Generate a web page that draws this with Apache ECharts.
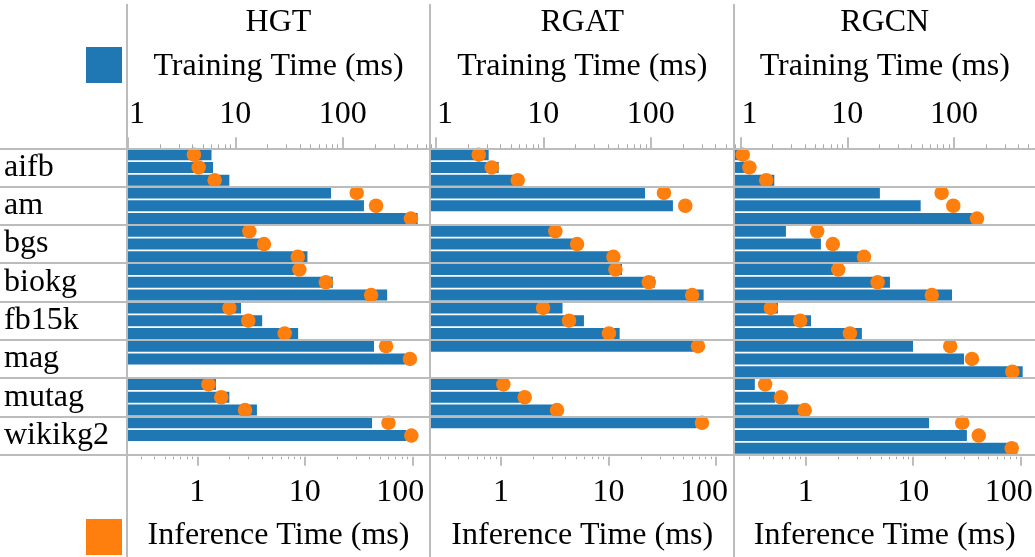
<!DOCTYPE html>
<html><head><meta charset="utf-8">
<script src="https://cdn.jsdelivr.net/npm/echarts@6/dist/echarts.min.js"></script>
<style>html,body{margin:0;padding:0;background:#fff}#c{width:1035px;height:557px}</style>
</head><body><div id="c"></div>
<script>
// ---------------- data ----------------
const categories = ['aifb','am','bgs','biokg','fb15k','mag','mutag','wikikg2'];
const models = ['HGT','RGAT','RGCN'];
const majorTicks = [1, 10, 100];
const trainName = 'Training Time (ms)';
const inferName = 'Inference Time (ms)';
// three runs per dataset, null = no measurement
const hgtTrain  = [[6.0,6.2,8.8],[78,158,500],[12.5,18,47],[40,81,260],[11.3,17.8,38.5],[196,385,null],[6.6,8.8,15.9],[188,390,null]];
const hgtInfer  = [[0.93,1.03,1.45],[30.4,46,97],[3.05,4.17,8.6],[8.9,15.7,41.4],[1.99,2.98,6.5],[57,95,null],[1.27,1.67,2.78],[60,98,null]];
const rgatTrain = [[3.1,3.84,5.45],[88.5,161,null],[12.4,19.7,48],[54,109,311],[15.1,23.9,51.4],[265,null,null],[3.9,6.1,12.8],[268,null,null]];
const rgatInfer = [[0.62,0.82,1.43],[32.8,51.8,null],[3.2,5.1,11.1],[11.6,23.7,60],[2.46,4.29,10.1],[68,null,null],[1.05,1.66,3.32],[74,null,null]];
const rgcnTrain = [[1.12,1.34,2.07],[20.2,48.7,148],[2.66,5.66,13.1],[7.4,25.1,95.8],[2.24,4.57,13.7],[41.3,124,440],[1.36,2.1,3.6],[58.3,132,392]];
const rgcnInfer = [[0.26,0.30,0.43],[18.4,23.6,39.2],[1.28,1.79,3.49],[2.01,4.67,14.9],[0.475,0.89,2.58],[22.1,35.2,83.6],[0.42,0.59,0.98],[28.6,40.7,82.5]];
const trainDomains = [[1.0,638],[0.9,590],[0.877,574]];
const inferDomains = [[0.2266,143],[0.223,145.5],[0.218,135.8]];

// ---------------- layout / style ----------------
const FONT = "'Liberation Serif','Times New Roman',serif";
const BLUE = '#1f77b4', ORANGE = '#ff7f0e', GRAY = '#bcbcbc', TICK = '#a8a8a8';
const GRID_TOP = 148.3, GRID_H = 306.4;
const panelLeft = [128, 431, 734.5], panelWidth = [301, 302.5, 300.5];
const BAR_H = 11;
const trainSets = [hgtTrain, rgatTrain, rgcnTrain];
const inferSets = [hgtInfer, rgatInfer, rgcnInfer];

function minorValues(d) {
  const out = [];
  for (let e = Math.floor(Math.log10(d[0])); e <= Math.ceil(Math.log10(d[1])); e++)
    for (let k = 2; k <= 9; k++) {
      const v = +(k * Math.pow(10, e)).toPrecision(6);
      if (v >= d[0] && v <= d[1]) out.push(v);
    }
  return out;
}
const slots = [];
categories.forEach(c => { for (let k = 0; k < 3; k++) slots.push(c + '-' + k); });

function toPoints(rows) {
  const pts = [];
  rows.forEach((r, ci) => r.forEach((v, k) => { if (v != null) pts.push([v, ci * 3 + k]); }));
  return pts;
}
const txt = { fontFamily: FONT, fontSize: 32, color: '#000' };
const hiddenLine = { show: true, lineStyle: { color: 'rgba(0,0,0,0)', width: 0 } };

const grids = [], xAxes = [], yAxes = [], series = [];
models.forEach((m, i) => {
  grids.push({ left: panelLeft[i], width: panelWidth[i], top: GRID_TOP, height: GRID_H, outerBoundsMode: 'none', containLabel: false });
  yAxes.push({ type: 'category', gridIndex: i, data: slots, inverse: true, show: false });
  const td = trainDomains[i], idd = inferDomains[i];
  xAxes.push({
    type: 'log', gridIndex: i, position: 'top', min: td[0], max: td[1], offset: 0,
    axisLine: hiddenLine, splitLine: { show: false },
    axisTick: { show: true, customValues: majorTicks, length: 11, lineStyle: { color: TICK, width: 1.5 } },
    axisLabel: Object.assign({ customValues: majorTicks, margin: 18,
      formatter: v => v === majorTicks[0] ? '{f|' + v + '}' : String(v),
      rich: { f: Object.assign({ padding: [0, 0, 0, 18] }, txt) } }, txt),
    name: trainName, nameLocation: 'middle', nameGap: 66, nameTextStyle: txt
  });
  xAxes.push({
    type: 'log', gridIndex: i, position: 'top', min: td[0], max: td[1], offset: 0,
    axisLine: hiddenLine, splitLine: { show: false }, axisLabel: { show: false },
    axisTick: { show: true, customValues: minorValues(td), length: 4, lineStyle: { color: TICK, width: 1 } },
    name: m, nameLocation: 'middle', nameGap: 110, nameTextStyle: txt
  });
  xAxes.push({
    type: 'log', gridIndex: i, position: 'bottom', min: idd[0], max: idd[1], offset: 2,
    axisLine: hiddenLine, splitLine: { show: false },
    axisTick: { show: true, customValues: majorTicks, length: 9, lineStyle: { color: TICK, width: 1.5 } },
    axisLabel: Object.assign({ customValues: majorTicks, margin: 20,
      formatter: v => v === majorTicks[majorTicks.length - 1] ? '{l|' + v + '}' : String(v),
      rich: { l: Object.assign({ padding: [0, 24, 0, 0] }, txt) } }, txt),
    name: inferName, nameLocation: 'middle', nameGap: 63, nameTextStyle: txt
  });
  xAxes.push({
    type: 'log', gridIndex: i, position: 'bottom', min: idd[0], max: idd[1], offset: 2,
    axisLine: hiddenLine, splitLine: { show: false }, axisLabel: { show: false },
    axisTick: { show: true, customValues: minorValues(idd), length: 2.5, lineStyle: { color: TICK, width: 1 } }
  });
  series.push({
    type: 'custom', name: 'Training Time', coordinateSystem: 'cartesian2d',
    xAxisIndex: 4 * i, yAxisIndex: i, data: toPoints(trainSets[i]), encode: { x: 0, y: 1 },
    itemStyle: { color: BLUE }, z: 2,
    renderItem: (params, api) => {
      const v = api.value(0), s = api.value(1);
      const p0 = api.coord([td[0], s]), p1 = api.coord([v, s]);
      return { type: 'rect', shape: { x: p0[0], y: p1[1] - BAR_H / 2, width: p1[0] - p0[0], height: BAR_H },
               style: { fill: BLUE } };
    }
  });
  series.push({
    type: 'scatter', name: 'Inference Time', xAxisIndex: 4 * i + 2, yAxisIndex: i,
    data: toPoints(inferSets[i]), symbolSize: 14.5, itemStyle: { color: ORANGE, opacity: 1 }, z: 3
  });
});
// full-width grid for dataset labels and row separators
grids.push({ left: 0, right: 0, top: GRID_TOP, height: GRID_H, outerBoundsMode: 'none', containLabel: false });
xAxes.push({ type: 'value', gridIndex: 3, show: false });
yAxes.push({ type: 'category', gridIndex: 3, data: categories, inverse: true, z: 10,
  axisLine: { show: false }, axisTick: { show: false },
  axisLabel: Object.assign({ inside: true, margin: 4, align: 'left', interval: 0 }, txt),
  splitLine: { show: true, interval: 0, lineStyle: { color: GRAY, width: 2 } } });

const dividers = [panelLeft[0] - 1,
  (panelLeft[0] + panelWidth[0] + panelLeft[1]) / 2,
  (panelLeft[1] + panelWidth[1] + panelLeft[2]) / 2];

const legendBase = { icon: 'rect', itemWidth: 36, itemHeight: 36, itemGap: 0, padding: 0, left: 86,
  selectedMode: false, formatter: () => ' ', textStyle: { fontSize: 1 } };

const chart = echarts.init(document.getElementById('c'), null, { renderer: 'canvas' });
chart.setOption({
  animation: false,
  backgroundColor: '#fff',
  grid: grids, xAxis: xAxes, yAxis: yAxes, series: series,
  legend: [Object.assign({ data: ['Training Time'], top: 47 }, legendBase),
           Object.assign({ data: ['Inference Time'], top: 519 }, legendBase)],
  graphic: dividers.map(x => ({ type: 'line', z: 20, shape: { x1: x, y1: 4, x2: x, y2: 557 },
    style: { stroke: GRAY, lineWidth: 2 } }))
});
</script></body></html>
